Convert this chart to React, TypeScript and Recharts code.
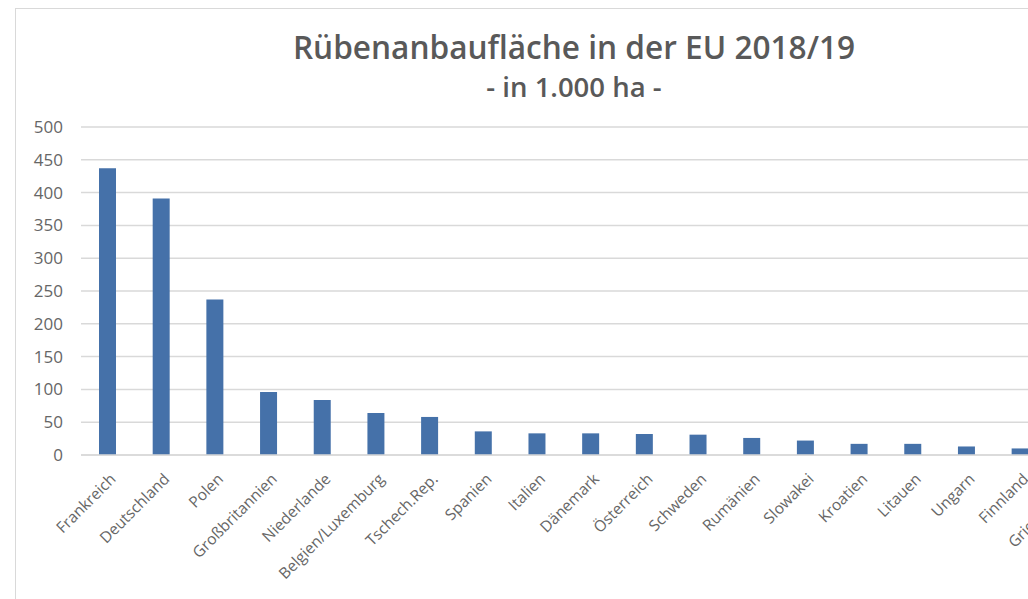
import React from 'react';
import { BarChart, Bar, XAxis, YAxis, CartesianGrid } from 'recharts';

const countries = [
  'Frankreich', 'Deutschland', 'Polen', 'Großbritannien', 'Niederlande',
  'Belgien/Luxemburg', 'Tschech.Rep.', 'Spanien', 'Italien', 'Dänemark',
  'Österreich', 'Schweden', 'Rumänien', 'Slowakei', 'Kroatien', 'Litauen',
  'Ungarn', 'Finnland', 'Griechenland',
];
const areas = [437, 391, 237, 96, 84, 64, 58, 36, 33, 33, 32, 31, 26, 22, 17, 17, 13, 10, 5];
const yTicks = [0, 50, 100, 150, 200, 250, 300, 350, 400, 450, 500];

const data = countries.map((name, i) => ({ name, value: areas[i] }));

const FONT = "'Open Sans', 'Noto Sans', sans-serif";

const XTick = (props: any) => {
  const { x, y, payload } = props;
  const ax = x + 9;
  const ay = y + 17;
  return (
    <text
      x={ax}
      y={ay}
      transform={`rotate(-45, ${ax}, ${ay})`}
      textAnchor="end"
      fill="#666666"
      fontSize={15.5}
      fontFamily={FONT}
    >
      {payload.value}
    </text>
  );
};

export default function App() {
  return (
    <div
      style={{
        position: 'fixed',
        left: 0,
        top: 0,
        width: 1028,
        height: 599,
        overflow: 'hidden',
        background: '#ffffff',
      }}
    >
      <div
        style={{
          position: 'absolute',
          left: 15,
          top: 8,
          width: 1118,
          height: 620,
          border: '1.5px solid #d9d9d9',
          boxSizing: 'border-box',
        }}
      />
      <div
        style={{
          position: 'absolute',
          left: 0,
          top: 27,
          width: 1148,
          textAlign: 'center',
          fontFamily: FONT,
          fontWeight: 600,
          fontSize: 31.6,
          color: '#595959',
          lineHeight: '40px',
          whiteSpace: 'nowrap',
        }}
      >
        Rübenanbaufläche in der EU 2018/19
      </div>
      <div
        style={{
          position: 'absolute',
          left: 0,
          top: 70,
          width: 1148,
          textAlign: 'center',
          fontFamily: FONT,
          fontWeight: 600,
          fontSize: 27.5,
          color: '#595959',
          lineHeight: '34px',
          whiteSpace: 'nowrap',
        }}
      >
        - in 1.000 ha -
      </div>
      <div style={{ position: 'absolute', left: 0, top: 0 }}>
        <BarChart
          width={1135}
          height={599}
          data={data}
          margin={{ top: 127, right: 34, bottom: 0, left: 0 }}
          barCategoryGap={0}
        >
          <CartesianGrid
            vertical={false}
            stroke="#d9d9d9"
            strokeWidth={1.5}
          />
          <YAxis
            width={81}
            domain={[0, 500]}
            ticks={yTicks}
            axisLine={false}
            tickLine={false}
            tickSize={0}
            tickMargin={18}
            interval={0}
            tick={{ fill: '#666666', fontSize: 17, fontFamily: FONT }}
          />
          <XAxis
            dataKey="name"
            height={144}
            interval={0}
            axisLine={{ stroke: '#d9d9d9', strokeWidth: 1.5 }}
            tickLine={false}
            tick={<XTick />}
          />
          <Bar
            dataKey="value"
            fill="#4571a9"
            barSize={17}
            isAnimationActive={false}
          />
        </BarChart>
      </div>
    </div>
  );
}
